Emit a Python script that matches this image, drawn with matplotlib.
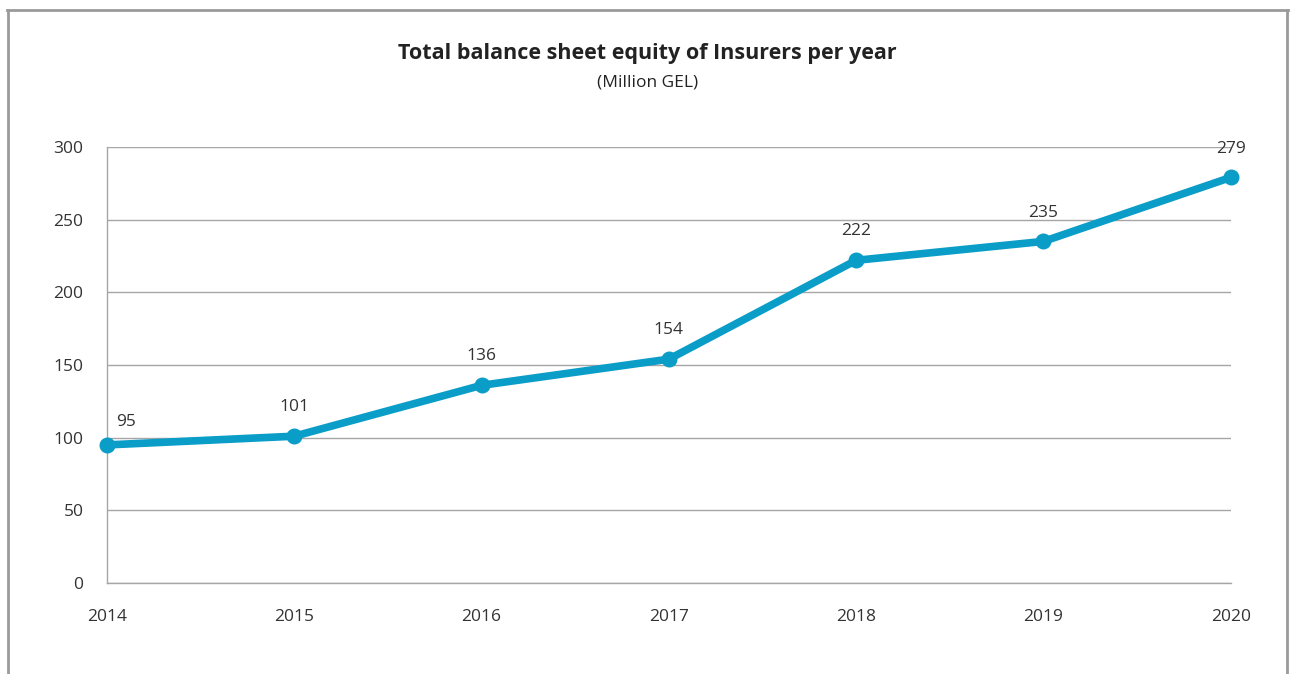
import matplotlib
matplotlib.use("Agg")
import matplotlib.pyplot as plt

years = [2014, 2015, 2016, 2017, 2018, 2019, 2020]
equity = [95, 101, 136, 154, 222, 235, 279]
y_ticks = [0, 50, 100, 150, 200, 250, 300]

LINE = "#0a9dc7"
GRID = "#a6a6a6"
TEXT = "#333333"

plt.rcParams["font.family"] = ["Open Sans", "DejaVu Sans"]

fig = plt.figure(figsize=(12.9, 6.74), dpi=100)

# outer frame: left, top and right edges only
fig.add_artist(plt.Line2D([0.0065, 0.0065], [0, 0.985], transform=fig.transFigure,
                          color="#9a9a9a", lw=2))
fig.add_artist(plt.Line2D([0.0055, 0.9985], [0.985, 0.985], transform=fig.transFigure,
                          color="#9a9a9a", lw=2))
fig.add_artist(plt.Line2D([0.9975, 0.9975], [0, 0.985], transform=fig.transFigure,
                          color="#9a9a9a", lw=2))

ax = fig.add_axes([0.083, 0.135, 0.871, 0.647])
ax.plot(years, equity, color=LINE, lw=5.5, marker="o", ms=10.5, clip_on=False,
        solid_capstyle="round", zorder=3)

# value labels above each point; the first one nudged right, clear of the axis
for x, v in zip(years, equity):
    dx, dy = (14, 11) if x == years[0] else (0, 15)
    ax.annotate(str(v), (x, v), xytext=(dx, dy), textcoords="offset points",
                ha="center", va="bottom", fontsize=12.5, color=TEXT)

ax.set_xlim(2014, 2020)
ax.set_ylim(0, 300)
ax.set_xticks(years)
ax.set_yticks(y_ticks)
ax.grid(axis="y", color=GRID, lw=1)
ax.set_axisbelow(True)
for s in ["top", "right"]:
    ax.spines[s].set_visible(False)
for s in ["left", "bottom"]:
    ax.spines[s].set_color(GRID)
    ax.spines[s].set_linewidth(1)
ax.tick_params(length=0, labelsize=12.5, labelcolor=TEXT)
ax.tick_params(axis="y", pad=17)
ax.tick_params(axis="x", pad=19)

fig.text(0.502, 0.921, "Total balance sheet equity of Insurers per year",
         ha="center", va="center", fontsize=15.5, fontweight="bold", color="#222222")
fig.text(0.502, 0.877, "(Million GEL)", ha="center", va="center",
         fontsize=12.5, color="#222222")

fig.savefig("out.png", dpi=100)
